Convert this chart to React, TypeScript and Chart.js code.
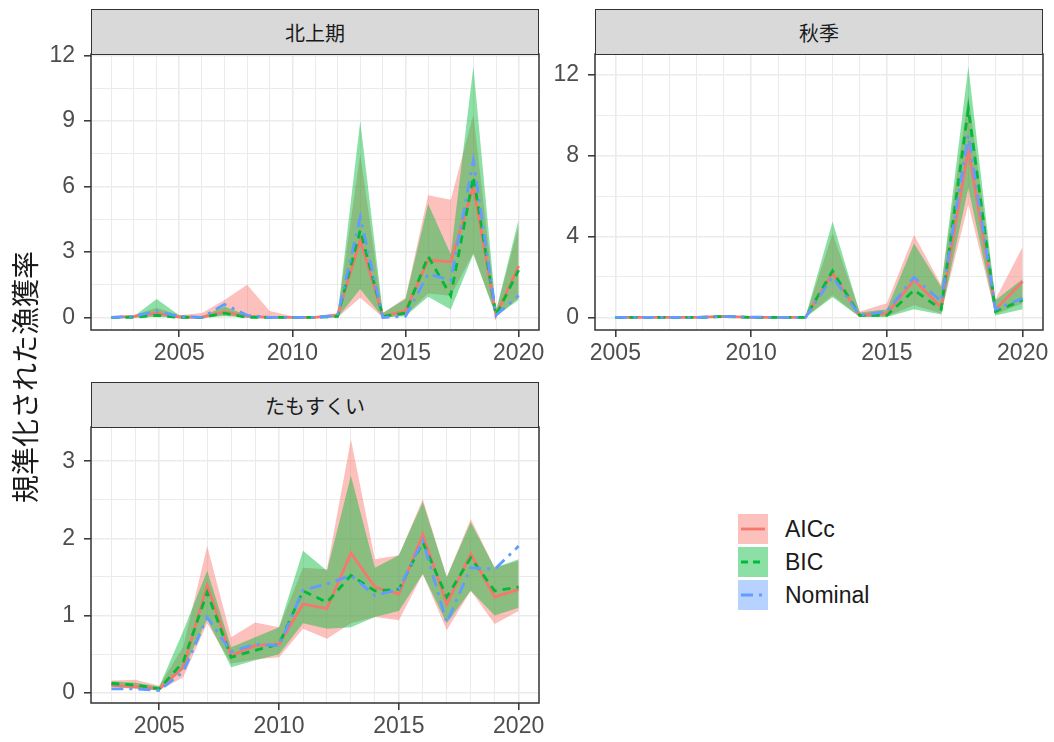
import React, { useEffect, useRef } from "react";
import { Chart, registerables } from "chart.js";

Chart.register(...registerables);

// ---------- Data ----------
const seriesNames = ["AICc", "BIC", "Nominal"];
const yAxisTitle = "規準化された漁獲率";
const xTickLabels = [2005, 2010, 2015, 2020];

// Panel 1: 北上期
const northTitle = "北上期";
const northYears = [2002, 2003, 2004, 2005, 2006, 2007, 2008, 2009, 2010, 2011, 2012, 2013, 2014, 2015, 2016, 2017, 2018, 2019, 2020];
const northAICc = [0, 0.05, 0.2, 0.02, 0, 0.25, 0.05, 0, 0, 0, 0.1, 3.55, 0.05, 0.3, 2.63, 2.55, 6.0, 0.1, 2.36];
const northAICcLo = [0, 0, 0.05, 0, 0, 0.1, 0.02, 0, 0, 0, 0, 0.9, 0, 0.1, 1.1, 1.0, 2.94, 0.05, 0.9];
const northAICcHi = [0, 0.1, 0.45, 0.1, 0.2, 0.8, 1.5, 0.3, 0.05, 0.05, 0.2, 7.5, 0.2, 0.9, 5.6, 5.4, 9.3, 0.3, 4.2];
const northBIC = [0, 0, 0.1, 0, 0, 0.2, 0, 0, 0, 0, 0.05, 4.0, 0.05, 0.2, 2.8, 1.0, 6.45, 0.1, 2.17];
const northBICLo = [0, 0, 0.02, 0, 0, 0.05, 0, 0, 0, 0, 0, 1.3, 0, 0.05, 0.95, 0.37, 2.9, 0.05, 0.8];
const northBICHi = [0, 0.05, 0.85, 0.1, 0.05, 0.5, 0.1, 0.05, 0.02, 0.02, 0.15, 9.0, 0.2, 0.85, 5.2, 2.9, 11.5, 0.3, 4.5];
const northNominal = [0, 0.05, 0.3, 0.05, 0, 0.6, 0.1, 0, 0, 0, 0.1, 4.6, 0, 0.05, 2.0, 1.7, 7.2, 0.1, 1.0];
const northYTicks = [0, 3, 6, 9, 12];

// Panel 2: 秋季
const autumnTitle = "秋季";
const autumnYears = [2005, 2006, 2007, 2008, 2009, 2010, 2011, 2012, 2013, 2014, 2015, 2016, 2017, 2018, 2019, 2020];
const autumnAICc = [0, 0, 0, 0, 0.05, 0, 0, 0, 2.18, 0.1, 0.2, 1.85, 0.5, 8.3, 0.4, 1.77];
const autumnAICcLo = [0, 0, 0, 0, 0.02, 0, 0, 0, 1.1, 0.02, 0.05, 0.6, 0.2, 5.6, 0.15, 0.7];
const autumnAICcHi = [0.02, 0.02, 0.02, 0.02, 0.1, 0.02, 0.02, 0.02, 4.16, 0.3, 0.7, 4.08, 1.6, 11.0, 0.9, 3.5];
const autumnBIC = [0, 0, 0, 0, 0.05, 0, 0, 0, 2.3, 0.1, 0.1, 1.35, 0.4, 10.3, 0.3, 0.86];
const autumnBICLo = [0, 0, 0, 0, 0.02, 0, 0, 0, 1.0, 0.02, 0.02, 0.4, 0.15, 6.4, 0.1, 0.4];
const autumnBICHi = [0.02, 0.02, 0.02, 0.02, 0.08, 0.02, 0.02, 0.02, 4.74, 0.25, 0.4, 3.66, 1.5, 12.4, 0.85, 1.9];
const autumnNominal = [0, 0, 0, 0, 0.05, 0.02, 0, 0, 2.0, 0.1, 0.3, 1.98, 0.8, 9.0, 0.4, 0.95];
const autumnYTicks = [0, 4, 8, 12];

// Panel 3: たもすくい
const tamoTitle = "たもすくい";
const tamoYears = [2003, 2004, 2005, 2006, 2007, 2008, 2009, 2010, 2011, 2012, 2013, 2014, 2015, 2016, 2017, 2018, 2019, 2020];
const tamoAICc = [0.095, 0.08, 0.05, 0.33, 1.39, 0.48, 0.61, 0.63, 1.15, 1.09, 1.81, 1.37, 1.28, 2.05, 1.15, 1.8, 1.24, 1.34];
const tamoAICcLo = [0.07, 0.05, 0.03, 0.2, 0.9, 0.38, 0.43, 0.46, 0.83, 0.7, 0.9, 0.98, 0.94, 1.54, 0.81, 1.32, 0.89, 1.06];
const tamoAICcHi = [0.16, 0.17, 0.09, 0.6, 1.9, 0.72, 0.91, 0.85, 1.62, 1.6, 3.28, 1.73, 1.78, 2.51, 1.5, 2.25, 1.62, 1.71];
const tamoBIC = [0.12, 0.1, 0.05, 0.4, 1.3, 0.46, 0.55, 0.63, 1.32, 1.17, 1.52, 1.32, 1.34, 1.95, 1.24, 1.75, 1.32, 1.37];
const tamoBICLo = [0.08, 0.06, 0.03, 0.3, 0.95, 0.33, 0.42, 0.5, 0.9, 0.83, 0.85, 0.98, 1.06, 1.54, 0.9, 1.32, 1.0, 1.1];
const tamoBICHi = [0.15, 0.13, 0.08, 0.8, 1.58, 0.59, 0.72, 0.85, 1.84, 1.58, 2.81, 1.62, 1.78, 2.47, 1.5, 2.21, 1.62, 1.73];
const tamoNominal = [0.05, 0.05, 0.03, 0.27, 0.98, 0.53, 0.63, 0.61, 1.33, 1.41, 1.52, 1.26, 1.34, 1.97, 0.91, 1.62, 1.6, 1.9];
const tamoYTicks = [0, 1, 2, 3];

// ---------- Styles ----------
const RED = "#F8766D";
const GREEN = "#00BA38";
const BLUE = "#619CFF";
const RED_FILL = "rgba(248,118,109,0.45)";
const GREEN_FILL = "rgba(0,186,56,0.45)";
const BLUE_FILL = "rgba(97,156,255,0.45)";
const LINE_W = 2.8;
const DASH_BIC = [8, 6];
const DASH_NOM = [12, 6, 3, 6];
const TICK_FONT = { family: "'Liberation Sans', Arial, sans-serif", size: 23 };
const CJK = "'Noto Sans CJK JP', 'Noto Sans', sans-serif";

const YW = 60;
const PT = 25;
const PR = 15;
const XH = 45;
const STRIP_H = 45;

const borderPlugin = {
  id: "panelBorder",
  afterDatasetsDraw(chart: any) {
    const { ctx, chartArea } = chart;
    ctx.save();
    ctx.strokeStyle = "#333333";
    ctx.lineWidth = 1.5;
    ctx.setLineDash([]);
    ctx.strokeRect(chartArea.left, chartArea.top, chartArea.right - chartArea.left, chartArea.bottom - chartArea.top);
    ctx.restore();
  },
};

type PanelProps = {
  title: string;
  years: number[];
  aicc: number[];
  aiccLo: number[];
  aiccHi: number[];
  bic: number[];
  bicLo: number[];
  bicHi: number[];
  nominal: number[];
  yTicks: number[];
  plotLeft: number;
  plotTop: number;
  plotW: number;
  plotH: number;
};

function Panel(p: PanelProps) {
  const ref = useRef<HTMLCanvasElement>(null);
  const cw = YW + p.plotW + PR;
  const ch = PT + p.plotH + XH;

  useEffect(() => {
    const all = [...p.aicc, ...p.aiccLo, ...p.aiccHi, ...p.bic, ...p.bicLo, ...p.bicHi, ...p.nominal];
    const dmin = Math.min(...all);
    const dmax = Math.max(...all);
    const ymin = dmin - 0.05 * (dmax - dmin);
    const ymax = dmax + 0.05 * (dmax - dmin);
    const x0 = p.years[0];
    const x1 = p.years[p.years.length - 1];
    const xmin = x0 - 0.05 * (x1 - x0);
    const xmax = x1 + 0.05 * (x1 - x0);
    const pts = (arr: number[]) => arr.map((v, i) => ({ x: p.years[i], y: v }));

    const step = p.yTicks[1] - p.yTicks[0];
    const yAll: number[] = [];
    p.yTicks.forEach((m) => {
      yAll.push(m);
      if (m - step / 2 >= ymin) yAll.push(m - step / 2);
      if (m + step / 2 <= ymax) yAll.push(m + step / 2);
    });
    const yVals = Array.from(new Set(yAll)).sort((a, b) => a - b);
    const isMajorY = (v: number) => p.yTicks.some((t) => Math.abs(t - v) < 1e-9);
    const isMajorX = (v: number) => xTickLabels.includes(v);

    const band = (data: number[], fill: any, color: string) => ({
      data: pts(data),
      borderWidth: 0,
      borderColor: "rgba(0,0,0,0)",
      backgroundColor: color,
      pointRadius: 0,
      fill,
    });

    const chart = new Chart(ref.current as HTMLCanvasElement, {
      type: "line",
      data: {
        datasets: [
          { label: "Nominal", data: pts(p.nominal), borderColor: BLUE, borderWidth: LINE_W, borderDash: DASH_NOM, pointRadius: 0, fill: false },
          { label: "BIC", data: pts(p.bic), borderColor: GREEN, borderWidth: LINE_W, borderDash: DASH_BIC, pointRadius: 0, fill: false },
          { label: "AICc", data: pts(p.aicc), borderColor: RED, borderWidth: LINE_W, pointRadius: 0, fill: false },
          band(p.bicLo, false, "rgba(0,0,0,0)"),
          band(p.bicHi, "-1", GREEN_FILL),
          band(p.aiccLo, false, "rgba(0,0,0,0)"),
          band(p.aiccHi, "-1", RED_FILL),
        ] as any,
      },
      options: {
        animation: false,
        responsive: false,
        maintainAspectRatio: false,
        layout: { padding: { top: PT, right: PR, left: 0, bottom: 0 } },
        elements: { line: { tension: 0, borderCapStyle: "butt" }, point: { radius: 0 } },
        plugins: {
          legend: { display: false },
          tooltip: { enabled: false },
          filler: { drawTime: "beforeDatasetsDraw" },
        } as any,
        scales: {
          x: {
            type: "linear",
            min: xmin,
            max: xmax,
            afterBuildTicks: (s: any) => {
              s.ticks = p.years.map((v) => ({ value: v }));
            },
            afterFit: (s: any) => {
              s.height = XH;
            },
            border: { display: false },
            grid: {
              color: "#EBEBEB",
              lineWidth: (c: any) => (c.tick && isMajorX(c.tick.value) ? 1.6 : 1.0),
              tickLength: 7,
              tickWidth: 1.5,
              tickColor: (c: any) => (c.tick && isMajorX(c.tick.value) ? "#333333" : "rgba(0,0,0,0)"),
            },
            ticks: {
              autoSkip: false,
              maxRotation: 0,
              padding: 3,
              color: "#4D4D4D",
              font: TICK_FONT,
              callback: (v: any) => (isMajorX(Number(v)) ? String(v) : ""),
            },
          },
          y: {
            type: "linear",
            min: ymin,
            max: ymax,
            afterBuildTicks: (s: any) => {
              s.ticks = yVals.map((v) => ({ value: v }));
            },
            afterFit: (s: any) => {
              s.width = YW;
            },
            border: { display: false },
            grid: {
              color: "#EBEBEB",
              lineWidth: (c: any) => (c.tick && isMajorY(c.tick.value) ? 1.6 : 1.0),
              tickLength: 7,
              tickWidth: 1.5,
              tickColor: (c: any) => (c.tick && isMajorY(c.tick.value) ? "#333333" : "rgba(0,0,0,0)"),
            },
            ticks: {
              autoSkip: false,
              padding: 9,
              color: "#4D4D4D",
              font: TICK_FONT,
              callback: (v: any) => (isMajorY(Number(v)) ? String(v) : ""),
            },
          },
        },
      } as any,
      plugins: [borderPlugin],
    });
    return () => chart.destroy();
  }, []);

  return (
    <>
      <canvas
        ref={ref}
        width={cw}
        height={ch}
        style={{ position: "absolute", left: p.plotLeft - YW, top: p.plotTop - PT, width: cw, height: ch }}
      />
      <div
        style={{
          position: "absolute",
          left: p.plotLeft,
          top: p.plotTop - STRIP_H,
          width: p.plotW,
          height: STRIP_H + 1,
          boxSizing: "border-box",
          background: "#D9D9D9",
          border: "1.5px solid #333333",
          display: "flex",
          alignItems: "center",
          justifyContent: "center",
          fontFamily: CJK,
          fontSize: 20,
          color: "#1A1A1A",
        }}
      >
        {p.title}
      </div>
    </>
  );
}

function LegendKey({ color, fill, dash }: { color: string; fill: string; dash: number[] }) {
  return (
    <svg width={30} height={30} style={{ display: "block" }}>
      <rect x={0} y={0} width={30} height={30} fill={fill} />
      <line
        x1={3}
        y1={15}
        x2={27}
        y2={15}
        stroke={color}
        strokeWidth={LINE_W}
        strokeDasharray={dash.length ? dash.join(",") : undefined}
      />
    </svg>
  );
}

export default function App() {
  const legendItems = [
    { name: seriesNames[0], color: RED, fill: RED_FILL, dash: [] as number[] },
    { name: seriesNames[1], color: GREEN, fill: GREEN_FILL, dash: [7, 5] },
    { name: seriesNames[2], color: BLUE, fill: BLUE_FILL, dash: [12, 6, 3, 6] },
  ];
  return (
    <div style={{ position: "absolute", left: 0, top: 0, width: 1054, height: 742, background: "#FFFFFF", overflow: "hidden" }}>
      <Panel
        title={northTitle}
        years={northYears}
        aicc={northAICc}
        aiccLo={northAICcLo}
        aiccHi={northAICcHi}
        bic={northBIC}
        bicLo={northBICLo}
        bicHi={northBICHi}
        nominal={northNominal}
        yTicks={northYTicks}
        plotLeft={91}
        plotTop={54}
        plotW={448}
        plotH={276}
      />
      <Panel
        title={autumnTitle}
        years={autumnYears}
        aicc={autumnAICc}
        aiccLo={autumnAICcLo}
        aiccHi={autumnAICcHi}
        bic={autumnBIC}
        bicLo={autumnBICLo}
        bicHi={autumnBICHi}
        nominal={autumnNominal}
        yTicks={autumnYTicks}
        plotLeft={595}
        plotTop={54}
        plotW={448}
        plotH={276}
      />
      <Panel
        title={tamoTitle}
        years={tamoYears}
        aicc={tamoAICc}
        aiccLo={tamoAICcLo}
        aiccHi={tamoAICcHi}
        bic={tamoBIC}
        bicLo={tamoBICLo}
        bicHi={tamoBICHi}
        nominal={tamoNominal}
        yTicks={tamoYTicks}
        plotLeft={91}
        plotTop={427}
        plotW={448}
        plotH={276}
      />
      <div
        style={{
          position: "absolute",
          left: 24,
          top: 377,
          transform: "translate(-50%, -50%) rotate(-90deg)",
          whiteSpace: "nowrap",
          fontFamily: CJK,
          fontSize: 28,
          color: "#1A1A1A",
          lineHeight: 1,
        }}
      >
        {yAxisTitle}
      </div>
      {legendItems.map((it, i) => (
        <div key={it.name} style={{ position: "absolute", left: 738, top: 514 + i * 33, height: 30, display: "flex", alignItems: "center" }}>
          <LegendKey color={it.color} fill={it.fill} dash={it.dash} />
          <span
            style={{
              marginLeft: 17,
              fontFamily: "'Liberation Sans', Arial, sans-serif",
              fontSize: 23,
              color: "#1A1A1A",
              lineHeight: "30px",
            }}
          >
            {it.name}
          </span>
        </div>
      ))}
    </div>
  );
}
